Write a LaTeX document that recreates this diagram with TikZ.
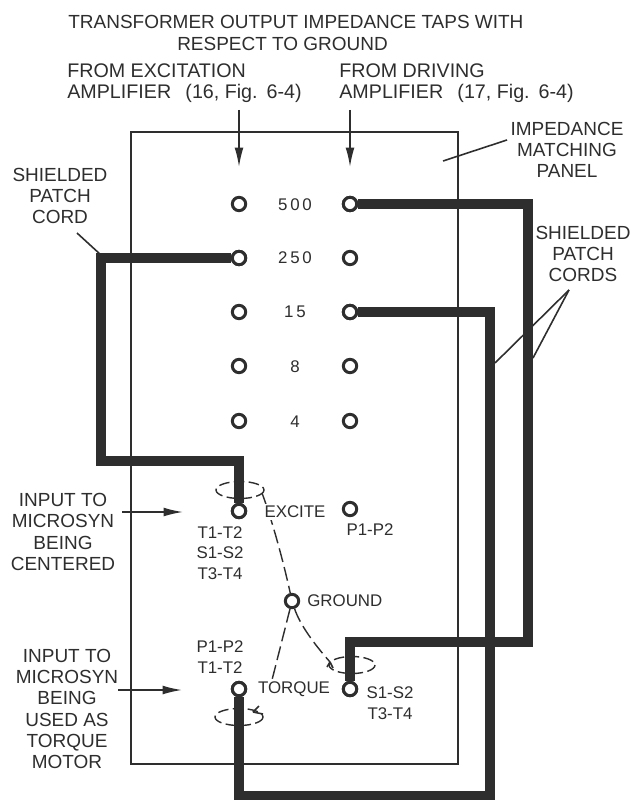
\documentclass[tikz,border=0pt]{standalone}
\usepackage{fontspec}
\setmainfont{Liberation Sans}
\usepackage{tikz}
\usetikzlibrary{arrows.meta,calc}
\colorlet{inkgray}{black!82}
\tikzset{
  tap/.style={circle,draw=inkgray,line width=1.7pt,fill=white,minimum size=7.6pt,inner sep=0pt},
  cordline/.style={inkgray,line width=6.2pt,line join=miter},
  panelline/.style={inkgray,line width=1pt},
  thinline/.style={inkgray,line width=0.9pt},
  feed/.style={inkgray,line width=0.9pt,-{Latex[length=11pt,width=5pt]}},
  grndline/.style={inkgray,line width=0.8pt,dash pattern=on 8pt off 3pt},
  ringline/.style={inkgray,line width=0.8pt,dash pattern=on 6pt off 2.5pt},
  lab/.style={inkgray,font=\fontsize{10.8}{12.1}\selectfont,align=center,inner sep=0pt},
  tinylab/.style={inkgray,font=\fontsize{9.6}{11.8}\selectfont,align=center,inner sep=0pt},
}
\begin{document}
\begin{tikzpicture}[x=0.02cm,y=-0.02cm]
\useasboundingbox (0,0) rectangle (633,800);
\fill[white] (0,0) rectangle (633,800);
% panel
\draw[panelline] (131,132) rectangle (458,764);
% patch cords
\coordinate (c1a) at (101,258); \coordinate (c1b) at (101,461); \coordinate (c1c) at (239,461);
\coordinate (c2a) at (528,204); \coordinate (c2b) at (528,642); \coordinate (c2c) at (350,642);
\coordinate (c3a) at (490,312); \coordinate (c3b) at (490,796); \coordinate (c3c) at (239,796);
% terminals
\node[tap] (a500) at (239,204) {};
\node[tap] (b500) at (350,204) {};
\node[tap] (a250) at (239,258) {};
\node[tap] (b250) at (350,258) {};
\node[tap] (a15) at (239,312) {};
\node[tap] (b15) at (350,312) {};
\node[tap] (a8) at (239,366) {};
\node[tap] (b8) at (350,366) {};
\node[tap] (a4) at (239,421) {};
\node[tap] (b4) at (350,421) {};
\node[tap] (exciteA) at (239,511) {};
\node[tap] (exciteB) at (350,509) {};
\node[tap] (ground) at (292,601) {};
\node[tap] (torqueA) at (239,689) {};
\node[tap] (torqueB) at (350,689) {};
\draw[cordline] (a250) -- (c1a) -- (c1b) -- (c1c) -- (exciteA);
\draw[cordline] (b500) -- (c2a) -- (c2b) -- (c2c) -- (torqueB);
\draw[cordline] (b15) -- (c3a) -- (c3b) -- (c3c) -- (torqueA);
\foreach \n in {a250,b500,b15,exciteA,torqueA,torqueB} \node[tap] at (\n) {};
% shield rings and ground wires
\draw[ringline] (240,490) ellipse (24 and 8.5);
\draw[ringline] (352,665) ellipse (23 and 8.5);
\draw[ringline] (239,717) ellipse (24 and 8.5);
\coordinate (w1) at (262,493); \coordinate (w2) at (272,680); \coordinate (w3) at (330,662);
\draw[grndline] (w1) .. controls (272,520) and (283,560) .. (ground);
\draw[grndline] (ground) -- (w2);
\draw[grndline] (ground) .. controls (300,625) and (315,645) .. (w3);
\draw[thinline] (259,706) -- (253,712) (253,712) -- (263,714);
\draw[thinline] (w3) -- (327,667) (w3) -- (333,668);
% tap labels
\node[tinylab] (l500) at (295,205) {5\,0\,0};
\node[tinylab] (l250) at (295,258) {2\,5\,0};
\node[tinylab] (l15) at (295,312) {1\,5};
\node[tinylab] (l8) at (295,367) {8};
\node[tinylab] (l4) at (295,422) {4};
\node[tinylab,fill=white,inner sep=1pt] (lexcite) at (295,512) {EXCITE};
\node[tinylab,fill=white,inner sep=1pt] (ltorque) at (294,689) {TORQUE};
\node[tinylab,anchor=west] (lground) at (307,601) {GROUND};
\node[tinylab] (lt1) at (220,553) {T1-T2\\S1-S2\\T3-T4};
\node[tinylab] (lp1) at (370,530) {P1-P2};
\node[tinylab] (lp2) at (220,657) {P1-P2\\T1-T2};
\node[tinylab] (ls1) at (390,703) {S1-S2\\T3-T4};
% captions
\node[lab,align=left,anchor=west] (title) at (68,33) {TRANSFORMER OUTPUT IMPEDANCE TAPS WITH\\\hspace*{62pt}RESPECT TO GROUND};
\node[lab,align=left,anchor=west,font=\fontsize{11.2}{11.6}\selectfont] (fromA) at (67,83) {FROM EXCITATION\\AMPLIFIER\hspace{5pt} (16, Fig.\hspace{1pt} 6-4)};
\node[lab,align=left,anchor=west,font=\fontsize{11.2}{11.6}\selectfont] (fromB) at (339,83) {FROM DRIVING\\AMPLIFIER\hspace{5pt} (17, Fig.\hspace{1pt} 6-4)};
\node[lab] (lpanel) at (567,150) {IMPEDANCE\\MATCHING\\PANEL};
\node[lab] (lcordA) at (60,196) {SHIELDED\\PATCH\\CORD};
\node[lab] (lcordB) at (583,254) {SHIELDED\\PATCH\\CORDS};
\node[lab] (linA) at (63,532) {INPUT TO\\MICROSYN\\BEING\\CENTERED};
\node[lab] (linB) at (67,709) {INPUT TO\\MICROSYN\\BEING\\USED AS\\TORQUE\\MOTOR};
% feeds and leaders
\coordinate (f1) at (239,110); \coordinate (f2) at (350,110);
\draw[feed] (f1) -- (239,167);
\draw[feed] (f2) -- (350,167);
\coordinate (f3) at (122,512); \coordinate (f4) at (118,690);
\draw[feed] (f3) -- (183,512);
\draw[feed] (f4) -- (182,690);
\coordinate (p1) at (507,140); \coordinate (p2) at (443,161);
\draw[thinline] (p1) -- (p2);
\coordinate (q1) at (77,233); \coordinate (q2) at (101,255);
\draw[thinline] (q1) -- (q2);
\coordinate (r0) at (569,290); \coordinate (r1) at (495,363); \coordinate (r2) at (533,358);
\draw[thinline] (r0) -- (r1);
\draw[thinline] (r0) -- (r2);
\end{tikzpicture}
\end{document}
